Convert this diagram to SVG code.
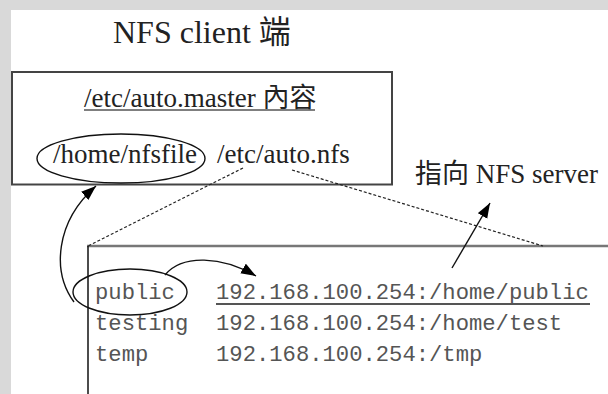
<svg xmlns="http://www.w3.org/2000/svg" width="608" height="394" viewBox="0 0 608 394">
<style>
.serif{font-family:"Liberation Serif","Noto Sans CJK TC",serif;fill:#222}
.mono{font-family:"Liberation Mono","DejaVu Sans Mono",monospace;font-size:22.2px;fill:#555}
.dash{fill:none;stroke:#222;stroke-width:1.2;stroke-dasharray:3,2}
.arr{fill:none;stroke:#111;stroke-width:1.4}
.ell{fill:none;stroke:#111;stroke-width:1.4}
</style>
<defs>
<marker id="ah" markerUnits="userSpaceOnUse" markerWidth="16" markerHeight="12" refX="15" refY="5.5" orient="auto">
<path d="M0,0 L15,5.5 L0,11 z" fill="#000"/>
</marker>
</defs>
<rect x="0" y="0" width="608" height="394" fill="#d9d9d9"/>
<rect x="11" y="10" width="597" height="384" fill="#ffffff"/>
<text class="serif" x="113" y="43" font-size="32">NFS client 端</text>
<g id="master">
<rect x="12" y="72" width="380" height="112.5" fill="none" stroke="#444" stroke-width="2"/>
<text class="serif" x="84" y="107" font-size="27">/etc/auto.master 內容</text>
<line x1="84" y1="110" x2="315" y2="110" stroke="#555" stroke-width="1.5"/>
</g>
<g id="nfsfile">
<ellipse class="ell" cx="121" cy="158.5" rx="84" ry="24.5"/>
<text class="serif" x="53" y="163" font-size="27">/home/nfsfile</text>
</g>
<g id="autonfs">
<text class="serif" x="217" y="163" font-size="27">/etc/auto.nfs</text>
</g>
<g id="server-label">
<text class="serif" x="415" y="183" font-size="27">指向 NFS server</text>
</g>
<g id="autonfs-file">
<line x1="87" y1="246" x2="608" y2="246" stroke="#777" stroke-width="2.5"/>
<line x1="88" y1="246" x2="88" y2="394" stroke="#111" stroke-width="1.5"/>
<ellipse class="ell" cx="130" cy="292" rx="57" ry="23"/>
<text class="mono" x="95" y="299">public</text>
<text class="mono" x="216" y="299">192.168.100.254:/home/public</text>
<line x1="216" y1="304" x2="590" y2="304" stroke="#555" stroke-width="1.8"/>
<text class="mono" x="95" y="330">testing</text>
<text class="mono" x="216" y="330">192.168.100.254:/home/test</text>
<text class="mono" x="95" y="361">temp</text>
<text class="mono" x="216" y="361">192.168.100.254:/tmp</text>
</g>
<g id="connectors">
<path class="dash" d="M243 168 L88 246"/>
<path class="dash" d="M292 170 L543 246"/>
<path class="arr" d="M74 302 C52 272 55 222 96 186" marker-end="url(#ah)"/>
<path class="arr" d="M165 275 C182 254 222 256 256 276" marker-end="url(#ah)"/>
<path class="arr" d="M452 268 L490 203" marker-end="url(#ah)"/>
</g>
</svg>
